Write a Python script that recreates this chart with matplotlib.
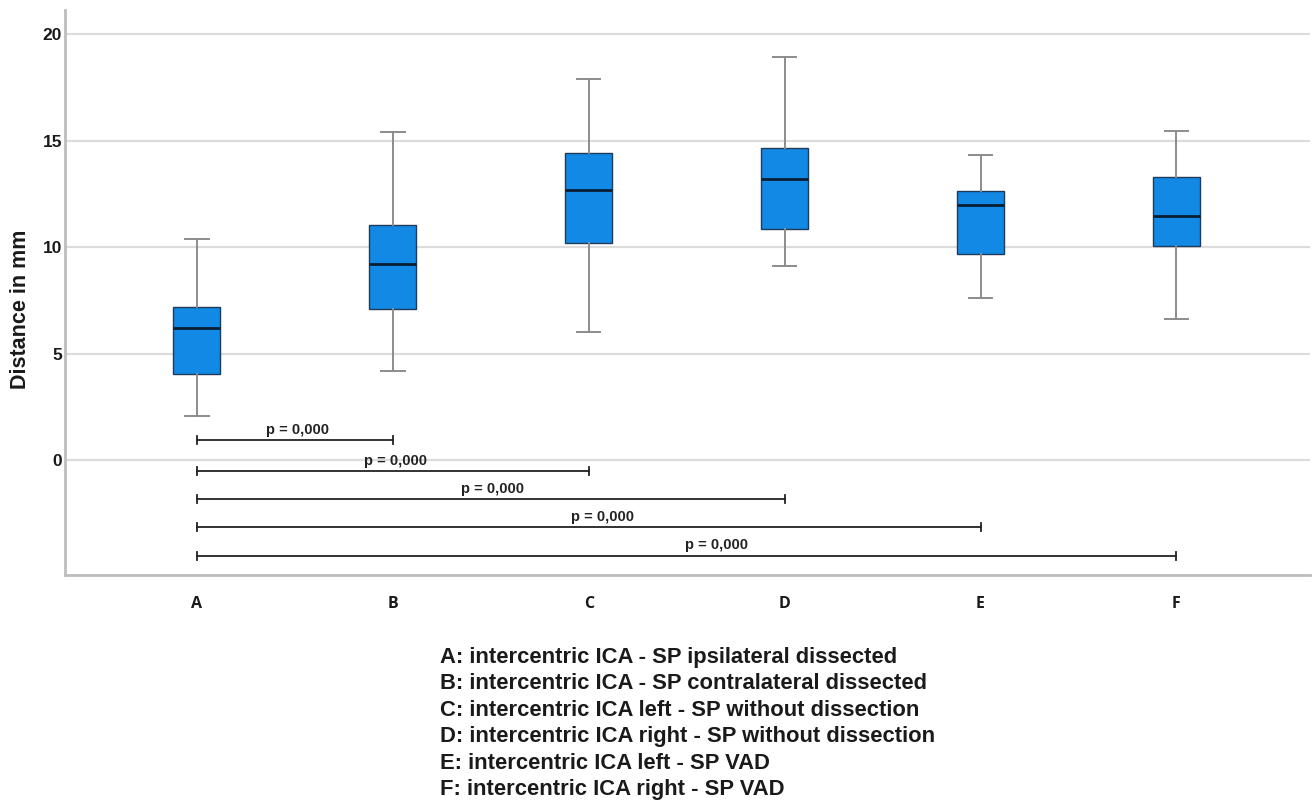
"""Boxplot of intercentric ICA - SP distances with significance brackets."""

import matplotlib
matplotlib.use("Agg")
import matplotlib.pyplot as plt

# ── Data ──────────────────────────────────────────────────────────
CATEGORIES = ["A", "B", "C", "D", "E", "F"]
WHISK_LO = [2.05, 4.2, 6.0, 9.1, 7.6, 6.6]
Q1       = [4.05, 7.1, 10.2, 10.85, 9.65, 10.05]
MEDIAN   = [6.2, 9.2, 12.7, 13.2, 11.95, 11.45]
Q3       = [7.2, 11.05, 14.4, 14.65, 12.65, 13.3]
WHISK_HI = [10.4, 15.4, 17.9, 18.9, 14.3, 15.45]

# significance comparisons: (from, to, level on y axis, label)
COMP_FROM  = [0, 0, 0, 0, 0]
COMP_TO    = [1, 2, 3, 4, 5]
COMP_Y     = [0.92, -0.52, -1.85, -3.15, -4.5]
COMP_LABEL = ["p = 0,000"] * 5
LABEL_SHIFT = [0.015, 0.015, 0.01, 0.07, 0.15]   # label offset from bracket centre

LEGEND_LINES = [
    "A: intercentric ICA - SP ipsilateral dissected",
    "B: intercentric ICA - SP contralateral dissected",
    "C: intercentric ICA left - SP without dissection",
    "D: intercentric ICA right - SP without dissection",
    "E: intercentric ICA left - SP VAD",
    "F: intercentric ICA right - SP VAD",
]

# ── Style ─────────────────────────────────────────────────────────
BOX_FILL = "#1389E6"
BOX_EDGE = "#1F3A5A"
WHISKER  = "#8C8C8C"
GRID     = "#DCDCDC"
SPINE    = "#BDBDBD"
TXT      = "#1A1A1A"

fig = plt.figure(figsize=(13.13, 8.06), dpi=100)
fig.patch.set_facecolor("white")
ax = fig.add_axes([0.0495, 0.2866, 0.948, 0.701])

stats = [
    dict(label=c, whislo=lo, q1=a, med=m, q3=b, whishi=hi, fliers=[])
    for c, lo, a, m, b, hi in zip(CATEGORIES, WHISK_LO, Q1, MEDIAN, Q3, WHISK_HI)
]
pos = list(range(len(CATEGORIES)))
ax.bxp(stats, positions=pos, widths=0.24, patch_artist=True,
       boxprops=dict(facecolor=BOX_FILL, edgecolor=BOX_EDGE, linewidth=1.0),
       medianprops=dict(color="#0A1E33", linewidth=2.0),
       whiskerprops=dict(color=WHISKER, linewidth=1.4),
       capprops=dict(color=WHISKER, linewidth=1.4),
       capwidths=0.12, zorder=3)

ax.set_xlim(-0.673, 5.68)
ax.set_ylim(-5.4, 21.13)
ax.set_yticks([0, 5, 10, 15, 20])
ax.yaxis.grid(True, color=GRID, linewidth=1.6, zorder=0)
ax.set_axisbelow(True)

for s in ["top", "right"]:
    ax.spines[s].set_visible(False)
for s in ["left", "bottom"]:
    ax.spines[s].set_color(SPINE)
    ax.spines[s].set_linewidth(2.0)

ax.tick_params(axis="both", length=0)
ax.tick_params(axis="y", pad=2)
ax.tick_params(axis="x", pad=15)
for lbl in ax.get_yticklabels():
    lbl.set_fontfamily("Liberation Sans")
    lbl.set_fontweight("bold")
    lbl.set_fontsize(12.5)
    lbl.set_color(TXT)
ax.set_xticks(pos)
ax.set_xticklabels(CATEGORIES, fontfamily="Open Sans", fontweight="bold",
                   fontsize=11.5, color=TXT)

ax.set_ylabel("Distance in mm", fontfamily="Liberation Sans", fontweight="bold",
              fontsize=15.5, color=TXT)
ax.yaxis.set_label_coords(-0.027, 0.471)

# ── Significance brackets ─────────────────────────────────────────
for i0, i1, y, lab, dx in zip(COMP_FROM, COMP_TO, COMP_Y, COMP_LABEL, LABEL_SHIFT):
    x0, x1 = pos[i0], pos[i1]
    ax.plot([x0, x1], [y, y], color="#222222", lw=1.3, zorder=4)
    for xe in (x0, x1):
        ax.plot([xe, xe], [y - 0.19, y + 0.19], color="#222222", lw=1.3, zorder=4)
    ax.text((x0 + x1) / 2 + dx, y + 0.3, lab, ha="center", va="baseline",
            fontsize=10.5, fontweight="bold", color="#222222",
            fontfamily="Liberation Sans", zorder=5)

# ── Legend text below the plot ────────────────────────────────────
for k, line in enumerate(LEGEND_LINES):
    fig.text(440 / 1313, 1 - (657 + k * 26.6) / 806, line, ha="left", va="center",
             fontsize=15.8, fontweight="bold", fontfamily="Liberation Sans", color=TXT)

fig.savefig("out.png", dpi=100, facecolor="white")
